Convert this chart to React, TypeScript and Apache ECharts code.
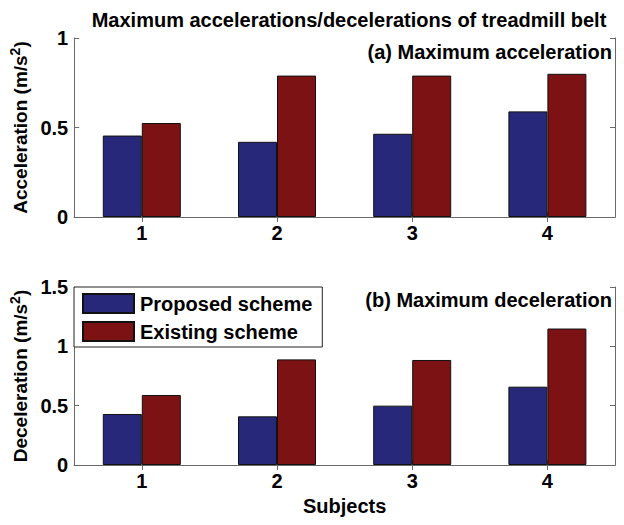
import React, { useEffect, useRef } from "react";
import * as echarts from "echarts";

const subjects = ["1", "2", "3", "4"];
const accProposed = [0.455, 0.42, 0.465, 0.59];
const accExisting = [0.525, 0.79, 0.79, 0.8];
const decProposed = [0.43, 0.41, 0.5, 0.66];
const decExisting = [0.59, 0.89, 0.885, 1.15];
const seriesNames = ["Proposed scheme", "Existing scheme"];
const titleText = "Maximum accelerations/decelerations of treadmill belt";
const panelA = "(a) Maximum acceleration";
const panelB = "(b) Maximum deceleration";

const BLUE = "#28287a";
const RED = "#7d1214";
const FONT = "Arial";
const AXIS_COLOR = "#6a6a6a";

export default function App() {
  const ref = useRef<HTMLDivElement>(null);
  useEffect(() => {
    if (!ref.current) return;
    const chart = echarts.init(ref.current, null, { renderer: "svg" });
    const grids = [
      { left: 74, top: 38, width: 541, height: 179 },
      { left: 74, top: 287, width: 541, height: 178 },
    ];
    const labelStyle = { fontFamily: FONT, fontWeight: "bold" as const, fontSize: 20, color: "#000" };
    const nameRich = {
      a: { fontFamily: FONT, fontWeight: "bold" as const, fontSize: 19, color: "#000" },
      b: { fontFamily: FONT, fontWeight: "bold" as const, fontSize: 14, color: "#000", padding: [0, 0, 10, 0] },
    };
    const xAxes: any[] = [];
    const yAxes: any[] = [];
    [0, 1].forEach((g) => {
      xAxes.push({
        type: "category",
        gridIndex: g,
        data: subjects,
        position: "bottom",
        axisLine: { show: true, lineStyle: { color: AXIS_COLOR, width: 1 } },
        axisTick: { show: true, inside: true, alignWithLabel: true, length: 5, lineStyle: { color: AXIS_COLOR } },
        axisLabel: { ...labelStyle, margin: 6 },
        name: g === 1 ? "Subjects" : "",
        nameLocation: "middle",
        nameGap: 31,
        nameTextStyle: { fontFamily: FONT, fontWeight: "bold", fontSize: 20, color: "#000" },
      });
      xAxes.push({
        type: "category",
        gridIndex: g,
        data: subjects,
        position: "top",
        axisLine: { show: true, lineStyle: { color: AXIS_COLOR, width: 1 } },
        axisTick: { show: true, inside: true, alignWithLabel: true, length: 5, lineStyle: { color: AXIS_COLOR } },
        axisLabel: { show: false },
      });
      const max = g === 0 ? 1 : 1.5;
      yAxes.push({
        type: "value",
        gridIndex: g,
        min: 0,
        max,
        interval: 0.5,
        position: "left",
        splitLine: { show: false },
        axisLine: { show: true, lineStyle: { color: AXIS_COLOR, width: 1 } },
        axisTick: { show: true, inside: true, length: 5, lineStyle: { color: AXIS_COLOR } },
        axisLabel: { ...labelStyle, margin: 6, formatter: (v: number) => String(v) },
        name: g === 0 ? "{a|Acceleration (m/s}{b|2}{a|)}" : "{a|Deceleration (m/s}{b|2}{a|)}",
        nameLocation: "middle",
        nameRotate: 90,
        nameGap: 42,
        nameTextStyle: { rich: nameRich },
      });
      yAxes.push({
        type: "value",
        gridIndex: g,
        min: 0,
        max,
        interval: 0.5,
        position: "right",
        splitLine: { show: false },
        axisLine: { show: true, lineStyle: { color: AXIS_COLOR, width: 1 } },
        axisTick: { show: true, inside: true, length: 5, lineStyle: { color: AXIS_COLOR } },
        axisLabel: { show: false },
      });
    });
    const bar = (name: string, data: number[], color: string, g: number) => ({
      type: "bar",
      name,
      data,
      xAxisIndex: g * 2,
      yAxisIndex: g * 2,
      barWidth: 39,
      barGap: "0%",
      itemStyle: { color, borderColor: "#111", borderWidth: 1 },
      emphasis: { disabled: true },
    });
    chart.setOption({
      animation: false,
      backgroundColor: "#fff",
      title: {
        text: titleText,
        left: 344,
        textAlign: "center",
        top: 5,
        textStyle: { fontFamily: FONT, fontWeight: "bold", fontSize: 20, color: "#000" },
      },
      grid: grids,
      xAxis: xAxes,
      yAxis: yAxes,
      legend: {
        data: seriesNames,
        orient: "vertical",
        left: 74,
        top: 287,
        itemWidth: 51,
        itemHeight: 19,
        itemGap: 7,
        padding: [6, 10, 5, 8],
        backgroundColor: "#fff",
        borderColor: "#222",
        borderWidth: 1,
        borderRadius: 0,
        selectedMode: false,
        icon: "rect",
        textStyle: { fontFamily: FONT, fontWeight: "bold", fontSize: 20, color: "#000", padding: [0, 0, 0, 1] },
      },
      graphic: [
        {
          type: "text",
          right: 12,
          top: 42,
          style: { text: panelA, fontFamily: FONT, fontWeight: "bold", fontSize: 20, fill: "#000" },
        },
        {
          type: "text",
          right: 12,
          top: 290,
          style: { text: panelB, fontFamily: FONT, fontWeight: "bold", fontSize: 20, fill: "#000" },
        },
      ],
      series: [
        bar(seriesNames[0], accProposed, BLUE, 0),
        bar(seriesNames[1], accExisting, RED, 0),
        bar(seriesNames[0], decProposed, BLUE, 1),
        bar(seriesNames[1], decExisting, RED, 1),
      ],
    });
    return () => chart.dispose();
  }, []);
  return <div ref={ref} style={{ width: 624, height: 525, position: "absolute", left: 0, top: 0 }} />;
}
